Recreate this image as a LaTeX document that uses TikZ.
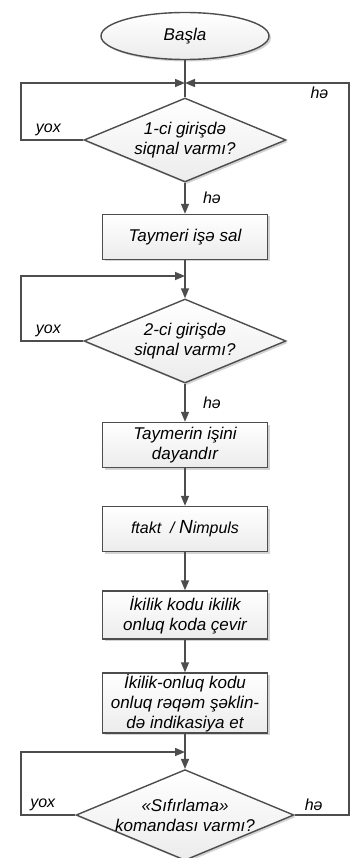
\documentclass[tikz,border=0pt]{standalone}
\usepackage{fontspec}
\setmainfont{Liberation Sans}
\usetikzlibrary{shapes, arrows.meta, positioning, shadows}
\definecolor{linea}{RGB}{77,77,77}
\tikzstyle{sombra} = [drop shadow={shadow xshift=2pt, shadow yshift=-2pt, opacity=.35, fill=gray}]
\tikzstyle{inicio} = [ellipse, draw=linea, line width=1.4pt, top color=white, bottom color=gray!15, sombra, minimum width=168pt, minimum height=47pt, inner sep=0pt, font=\fontsize{17}{20}\selectfont\itshape]
\tikzstyle{caja} = [rectangle, draw=linea, line width=1.4pt, top color=white, bottom color=gray!15, sombra, minimum width=165pt, minimum height=45pt, inner sep=0pt, align=center, font=\fontsize{17}{20}\selectfont\itshape]
\tikzstyle{pregunta} = [diamond, draw=linea, line width=1.4pt, top color=white, bottom color=gray!15, sombra, minimum width=202pt, minimum height=84pt, aspect=2.4, inner sep=0pt, align=center, font=\fontsize{17}{20}\selectfont\itshape]
\tikzstyle{flecha} = [draw=linea, line width=1.5pt, -{Triangle[length=10pt, width=8pt]}]
\tikzstyle{linea} = [draw=linea, line width=1.5pt]
\tikzstyle{etiqueta} = [font=\fontsize{16}{19}\selectfont\itshape, text=black]

\begin{document}
\begin{tikzpicture}[x=1pt, y=1pt]
	\useasboundingbox (0,0) rectangle (351,-858);
	\node [inicio] (inicio) at (185,-36) {Başla};
	\node [pregunta] (p1) at (185,-140) {1-ci girişdə\\siqnal varmı?};
	\node [caja] (c1) at (185,-237) {Taymeri işə sal};
	\node [pregunta] (p2) at (185,-341) {2-ci girişdə\\siqnal varmı?};
	\node [caja] (c2) at (185,-445) {Taymerin işini\\dayandır};
	\node [caja, font=\fontsize{16}{20}\selectfont\itshape] (c3) at (185,-529) {ftakt\ \ / {\fontsize{19}{20}\selectfont\itshape N}impuls};
	\node [caja, minimum height=48pt] (c4) at (185,-615) {İkilik kodu ikilik\\onluq koda çevir};
	\node [caja, minimum height=60pt] (c5) at (185,-703) {İkilik-onluq kodu\\onluq rəqəm şəklin-\\də indikasiya et};
	\node [pregunta] (p3) at (185,-815) {«Sıfırlama»\\komandası varmı?};
	\coordinate (j1) at (185,-83);
	\coordinate (j2) at (185,-276);
	\coordinate (j3) at (185,-752);

	\path [linea] (inicio) -- (p1);
	\path [flecha] (p1.west) -- node[etiqueta, above, pos=0.56] {yox} (21,-140) |- (j1);
	\path [flecha] (p3.east) -- node[etiqueta, above, pos=0.35] {hə} (349,-815) |- node[etiqueta, below, pos=0.59] {hə} (j1);
	\path [flecha] (p1) -- node[etiqueta, right=14pt] {hə} (c1);
	\path [flecha] (c1) -- (p2);
	\path [flecha] (p2.west) -- node[etiqueta, above, pos=0.56] {yox} (21,-341) |- (j2);
	\path [flecha] (p2) -- node[etiqueta, right=14pt] {hə} (c2);
	\path [flecha] (c2) -- (c3);
	\path [flecha] (c3) -- (c4);
	\path [flecha] (c4) -- (c5);
	\path [flecha] (c5) -- (p3);
	\path [flecha] (p3.west) -- node[etiqueta, above, pos=0.6] {yox} (21,-815) |- (j3);
\end{tikzpicture}
\end{document}
